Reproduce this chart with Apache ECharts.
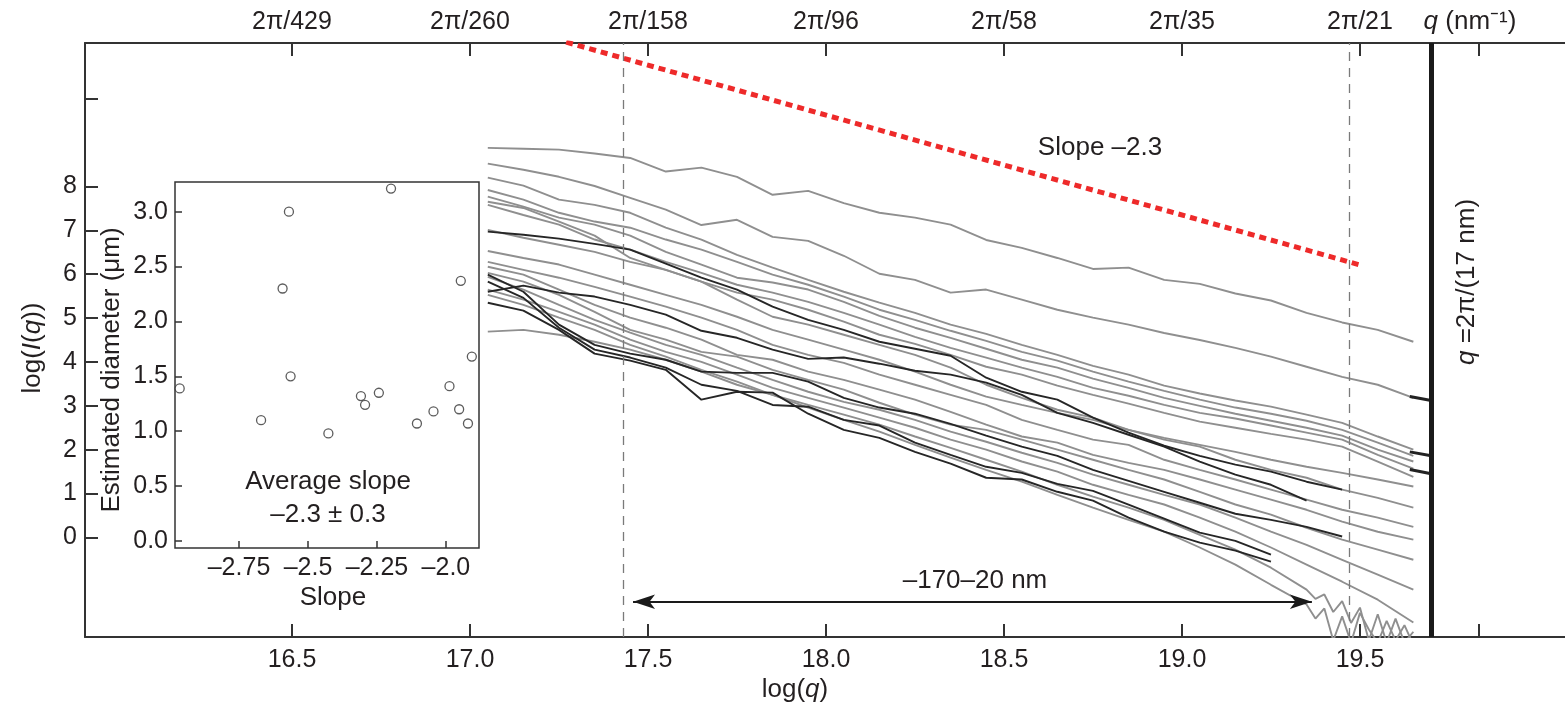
<!DOCTYPE html>
<html><head><meta charset="utf-8">
<script src="https://cdn.jsdelivr.net/npm/echarts@6/dist/echarts.min.js"></script>
<style>html,body{margin:0;padding:0;background:#fff}#c{width:1565px;height:707px}</style>
</head><body><div id="c"></div>
<script>
// ---------- data ----------
const LOGQ = [17.05,17.15,17.25,17.35,17.45,17.55,17.65,17.75,17.85,17.95,18.05,18.15,18.25,18.35,18.45,18.55,18.65,18.75,18.85,18.95,19.05,19.15,19.25,19.35,19.45,19.55,19.65];

// gray curves (log I(q))
const G1 = [8.88,8.86,8.84,8.75,8.65,8.34,8.43,8.22,7.81,7.90,7.62,7.40,7.29,7.13,6.78,6.60,6.37,6.12,6.15,5.87,5.78,5.56,5.40,5.12,4.90,4.73,4.46];
const G2 = [8.52,8.38,8.22,8.01,7.74,7.47,7.12,7.24,6.85,6.76,6.42,6.01,5.87,5.58,5.65,5.42,5.19,5.01,4.85,4.66,4.50,4.32,4.12,3.89,3.66,3.48,3.18];
const B1 = [8.20,8.02,7.70,7.58,7.40,7.06,6.79,6.44,6.15,5.87,5.60,5.35,5.12,4.85,4.64,4.39,4.16,3.91,3.71,3.46,3.28,3.12,2.98,2.80,2.61,2.30,2.00];
const B2 = [7.92,7.70,7.40,7.20,7.06,6.79,6.56,6.28,5.99,5.76,5.49,5.19,4.96,4.71,4.48,4.23,4.03,3.78,3.55,3.34,3.14,2.96,2.82,2.66,2.45,2.16,1.86];
const B3 = [7.77,7.54,7.29,7.13,6.88,6.51,6.22,5.92,5.81,5.65,5.37,5.05,4.78,4.55,4.30,4.05,3.87,3.62,3.41,3.18,3.00,2.82,2.66,2.50,2.32,2.00,1.73];
const B4 = [7.58,7.35,7.13,6.79,6.56,6.28,6.03,5.76,5.58,5.37,5.12,4.85,4.57,4.32,4.10,3.87,3.66,3.41,3.23,3.02,2.84,2.71,2.55,2.39,2.23,1.88,1.57];
const B5 = [7.65,7.51,7.20,6.88,6.37,6.10,5.83,5.58,5.42,5.19,4.92,4.62,4.41,4.16,3.89,3.71,3.46,3.25,3.05,2.84,2.64,2.50,2.36,2.23,2.07,1.73,1.38];
const L1 = [7.01,6.83,6.67,6.51,6.28,6.10,5.83,5.42,5.03,4.85,4.62,4.39,4.16,3.87,3.48,3.18,2.91,2.73,2.45,2.27,2.11,1.95,1.77,1.61,1.47,1.32,1.16];
const L2 = [6.53,6.37,6.22,5.99,5.76,5.53,5.30,5.03,4.73,4.51,4.28,4.05,3.78,3.48,3.21,3.02,2.84,2.68,2.45,2.23,2.07,1.77,1.54,1.36,1.09,0.90,0.68];
const L3 = [6.28,6.10,5.92,5.71,5.49,5.26,5.01,4.73,4.39,4.16,3.98,3.71,3.48,3.25,3.02,2.68,2.45,2.23,2.11,1.77,1.54,1.32,1.09,0.86,0.63,0.45,0.24];
const L4 = [6.17,5.99,5.65,5.30,5.01,4.78,4.51,4.16,4.05,3.78,3.59,3.37,3.14,2.86,2.57,2.30,2.16,1.88,1.70,1.54,1.32,1.09,0.86,0.63,0.36,0.13,-0.05];
const L5 = [6.03,5.83,5.53,5.14,4.73,4.51,4.23,4.12,3.82,3.59,3.37,3.07,2.80,2.57,2.45,2.23,2.00,1.77,1.54,1.32,1.04,0.75,0.52,0.22,-0.05,-0.28,-0.51];
const L6 = [5.94,5.65,5.30,4.96,4.67,4.39,4.16,3.87,3.59,3.32,3.09,2.91,2.68,2.41,2.18,1.93,1.70,1.43,1.20,0.97,0.75,0.45,0.13,-0.17,-0.51,-0.85,-1.19];
const L7 = [5.65,5.42,5.14,4.85,4.51,4.23,4.00,3.71,3.41,3.18,2.96,2.73,2.50,2.23,2.00,1.73,1.50,1.20,0.97,0.75,0.45,0.13,-0.23,-0.62,-1.01,-1.42,-1.94];
const L8 = [4.69,4.73,4.62,4.46,4.28,4.05,3.78,3.48,3.25,2.96,2.68,2.41,2.11,1.82,1.54,1.27,0.97,0.68,0.40,0.13,-0.23,-0.62,-1.08,-1.53];
const L9 = [5.53,5.30,5.01,4.73,4.39,4.12,3.82,3.55,3.25,3.02,2.80,2.57,2.30,2.04,1.77,1.50,1.20,0.93,0.68,0.40,0.06,-0.28,-0.69,-1.19];

// noisy tails of the two lowest gray curves (fine q grid)
const TAIL_X  = [19.35,19.375,19.40,19.425,19.45,19.475,19.50,19.525,19.55,19.575,19.60,19.625,19.65];
const L8_TAIL = [-1.53,-1.85,-1.62,-2.35,-1.80,-2.40,-1.72,-2.10,-2.40,-1.90,-2.35,-2.00,-2.45];
const L9_TAIL = [-1.19,-1.40,-1.30,-1.70,-1.45,-1.95,-1.60,-2.35,-1.75,-2.40,-1.85,-2.40,-2.15];

// black curves
const K1 = [6.97,6.90,6.81,6.69,6.56,6.24,5.92,5.65,5.26,4.96,4.73,4.46,4.30,4.14,3.64,3.32,3.14,2.73,2.39,2.09,1.86,1.66,1.50,1.27,1.09];
const K2 = [5.60,5.74,5.58,5.49,5.30,5.08,4.71,4.55,4.28,4.07,4.10,3.96,3.80,3.71,3.53,3.25,2.84,2.61,2.34,2.07,1.73,1.43,1.20,0.84];
const K3 = [5.99,5.60,4.85,4.39,4.19,4.05,3.78,3.75,3.75,3.55,3.18,2.96,2.82,2.59,2.32,2.07,1.86,1.54,1.29,1.04,0.79,0.54,0.40,0.24,0.02];
const K4 = [5.35,5.17,4.73,4.19,4.03,3.82,3.14,3.32,3.30,2.82,2.45,2.27,1.95,1.68,1.36,1.32,1.04,0.84,0.45,0.13,-0.12,-0.30,-0.55];
const K5 = [5.83,5.46,4.78,4.28,4.10,3.87,3.48,3.34,3.02,2.98,2.68,2.55,2.16,1.88,1.61,1.47,1.22,1.06,0.75,0.43,0.11,-0.08,-0.39];

// short dark end pieces at the right
const END_X = [19.64, 19.70];
const END_G2 = [3.21, 3.12];
const END_B1 = [1.95, 1.86];
const END_B5 = [1.55, 1.45];

// slope -2.3 guide line
const SLOPE_X = [17.27, 19.50];
const SLOPE_Y = [11.29, 6.21];

// reference positions
const VLINE_DASHED = [17.435, 19.466];
const VLINE_17NM = 19.702;
const ARROW_X = [17.458, 19.365];
const ARROW_Y = -1.466;

// ticks
const X_TICKS = [16.5, 17.0, 17.5, 18.0, 18.5, 19.0, 19.5, 19.835];
const X_LABELS = [16.5, 17.0, 17.5, 18.0, 18.5, 19.0, 19.5];
const TOP_LABELS = ['2π/429', '2π/260', '2π/158', '2π/96', '2π/58', '2π/35', '2π/21'];
const Y_TICKS = [0, 1, 2, 3, 4, 5, 6, 7, 8, 10];
const Y_LABELS = [0, 1, 2, 3, 4, 5, 6, 7, 8];

// inset
const SLOPES = [-2.965,-2.670,-2.569,-2.592,-2.563,-2.426,-2.308,-2.293,-2.243,-2.199,-2.105,-2.045,-1.987,-1.946,-1.952,-1.920,-1.906];
const DIAMS  = [1.39,1.10,3.00,2.30,1.50,0.98,1.32,1.24,1.35,3.21,1.07,1.18,1.41,2.37,1.20,1.07,1.68];
const INSET_X_TICKS = [-2.75, -2.5, -2.25, -2.0];
const INSET_Y_TICKS = [0, 0.5, 1.0, 1.5, 2.0, 2.5, 3.0];

// ---------- chart ----------
const FONT = "'Liberation Sans', Arial, Helvetica, sans-serif";
const TXT = '#231f20';
const AX = '#333';
const FS = 26;   // annotation text
const TS = 25;   // tick labels

const pts = a => a.map((y, i) => [LOGQ[i], y]);
const GRAYS = [G1, G2, B1, B2, B3, B4, B5, L1, L2, L3, L4, L5, L6, L7];
const BLACKS = [K1, K2, K3, K4, K5];
const GRAY = '#8f8f8f';

const series = [];
GRAYS.forEach(a => series.push({
  type: 'line', data: pts(a), symbol: 'none', silent: true, clip: true,
  lineStyle: { color: GRAY, width: 1.9 }, z: 2
}));
[[L8, L8_TAIL], [L9, L9_TAIL]].forEach(([a, t]) => series.push({
  type: 'line', data: pts(a).concat(TAIL_X.slice(1).map((x, i) => [x, t[i + 1]])),
  symbol: 'none', silent: true, clip: true,
  lineStyle: { color: GRAY, width: 1.9 }, z: 2
}));
BLACKS.forEach(a => series.push({
  type: 'line', data: pts(a), symbol: 'none', silent: true, clip: true,
  lineStyle: { color: '#262626', width: 1.9 }, z: 3
}));
[END_G2, END_B1, END_B5].forEach(a => series.push({
  type: 'line', data: a.map((y, i) => [END_X[i], y]), symbol: 'none', silent: true,
  lineStyle: { color: '#222', width: 3 }, z: 3
}));
series.push({
  type: 'line', data: SLOPE_X.map((x, i) => [x, SLOPE_Y[i]]), symbol: 'none', silent: true, clip: true,
  lineStyle: { color: '#ee2a2a', width: 5, type: [7, 5] }, z: 4
});
series.push({
  type: 'line', data: [], silent: true, z: 5,
  markLine: {
    silent: true, animation: false, symbol: ['none', 'none'], label: { show: false },
    lineStyle: { color: '#7a7a7a', width: 1.3, type: [9, 7] },
    data: [
      { xAxis: VLINE_DASHED[0] },
      { xAxis: VLINE_DASHED[1] },
      { xAxis: VLINE_17NM, lineStyle: { color: '#1a1a1a', width: 5, type: 'solid' } }
    ]
  }
});
series.push({
  type: 'line', data: [], silent: true, z: 5,
  markLine: {
    silent: true, animation: false, symbol: ['arrow', 'arrow'], symbolSize: [11, 22],
    label: { show: false },
    lineStyle: { color: '#1a1a1a', width: 2, type: 'solid' },
    data: [[{ coord: [ARROW_X[0], ARROW_Y] }, { coord: [ARROW_X[1], ARROW_Y] }]]
  }
});
series.push({
  type: 'scatter', xAxisIndex: 2, yAxisIndex: 1,
  data: SLOPES.map((s, i) => [s, DIAMS[i]]),
  symbol: 'circle', symbolSize: 9, silent: true,
  itemStyle: { color: '#fff', borderColor: '#333', borderWidth: 1.3 }
});

const axisLine = { show: true, onZero: false, lineStyle: { color: AX, width: 2 } };
const lbl = { fontSize: TS, color: TXT, fontFamily: FONT };

const txt = (x, y, text, extra) => Object.assign({
  type: 'text', x: x, y: y, silent: true, z: 100,
  style: Object.assign({ text: text, fontSize: FS, fontFamily: FONT, fill: TXT,
    align: 'center', verticalAlign: 'middle', textAlign: 'center', textVerticalAlign: 'middle' }, (extra && extra.style) || {})
}, extra && extra.rotation ? { rotation: extra.rotation } : {});
const rich = {
  n: { fontSize: FS, fontFamily: FONT, fill: TXT },
  i: { fontSize: FS, fontFamily: FONT, fill: TXT, fontStyle: 'italic' }
};

const option = {
  animation: false,
  backgroundColor: '#fff',
  textStyle: { fontFamily: FONT },
  grid: [
    { left: 85, right: 0, top: 43, bottom: 70, show: false },
    { left: 175, top: 182, width: 304, height: 366, show: true, borderColor: AX, borderWidth: 1.5, backgroundColor: '#fff' }
  ],
  xAxis: [
    { type: 'value', gridIndex: 0, position: 'bottom', min: 15.9185, max: 20.076,
      axisLine: axisLine,
      axisTick: { show: true, inside: true, length: 13, customValues: X_TICKS, lineStyle: { color: AX, width: 2 } },
      axisLabel: Object.assign({ customValues: X_LABELS, margin: 11, formatter: v => v.toFixed(1) }, lbl),
      splitLine: { show: false } },
    { type: 'value', gridIndex: 0, position: 'top', min: 15.9185, max: 20.076,
      axisLine: axisLine,
      axisTick: { show: true, inside: true, length: 13, customValues: X_TICKS, lineStyle: { color: AX, width: 2 } },
      axisLabel: Object.assign({ customValues: X_LABELS, margin: 8,
        formatter: v => TOP_LABELS[X_LABELS.findIndex(t => Math.abs(t - v) < 1e-6)] }, lbl),
      splitLine: { show: false } },
    { type: 'value', gridIndex: 1, min: -2.982, max: -1.88,
      axisLine: { show: false, onZero: false },
      axisTick: { show: true, inside: true, length: 7, customValues: INSET_X_TICKS, lineStyle: { color: AX, width: 1.5 } },
      axisLabel: Object.assign({ customValues: INSET_X_TICKS, margin: 8,
        formatter: v => '–' + (Math.abs(v) % 1 === 0 ? Math.abs(v).toFixed(1) : String(Math.abs(v))) }, lbl),
      splitLine: { show: false } }
  ],
  yAxis: [
    { type: 'value', gridIndex: 0, min: -2.27, max: 11.27,
      axisLine: axisLine,
      axisTick: { show: true, inside: true, length: 13, customValues: Y_TICKS, lineStyle: { color: AX, width: 2 } },
      axisLabel: Object.assign({ customValues: Y_LABELS, margin: 8, formatter: v => String(v) }, lbl),
      splitLine: { show: false } },
    { type: 'value', gridIndex: 1, min: -0.064, max: 3.27,
      axisLine: { show: false, onZero: false },
      axisTick: { show: true, inside: true, length: 7, customValues: INSET_Y_TICKS, lineStyle: { color: AX, width: 1.5 } },
      axisLabel: Object.assign({ customValues: INSET_Y_TICKS, margin: 7, formatter: v => v.toFixed(1) }, lbl),
      splitLine: { show: false } }
  ],
  graphic: [
    txt(1100, 148, 'Slope –2.3'),
    txt(975, 581, '–170–20 nm'),
    txt(328, 482, 'Average slope'),
    txt(328, 515, '–2.3 ± 0.3'),
    txt(333, 598, 'Slope'),
    txt(112, 370, 'Estimated diameter (μm)', { rotation: Math.PI / 2 }),
    txt(33, 348, '{n|log(}{i|I}{n|(}{i|q}{n|))}', { rotation: Math.PI / 2, style: { rich: rich } }),
    txt(795, 690, '{n|log(}{i|q}{n|)}', { style: { rich: rich } }),
    txt(1470, 22, '{i|q}{n| (nm⁻¹)}', { style: { rich: rich } }),
    txt(1467, 282, '{i|q}{n| =2π/(17 nm)}', { rotation: Math.PI / 2, style: { rich: rich } })
  ],
  series: series
};

const chart = echarts.init(document.getElementById('c'), null, { renderer: 'canvas' });
chart.setOption(option);
</script></body></html>
